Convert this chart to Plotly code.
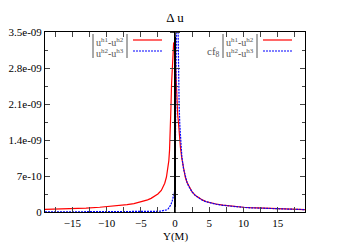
import plotly.graph_objects as go

# ---- data ----
x_red = [-19, -17, -15, -13, -11, -10, -9, -8, -7, -6, -5, -4.5, -4, -3.5, -3, -2.5, -2, -1.75, -1.5, -1.25,
         -1, -0.9, -0.8, -0.7, -0.6, -0.5, -0.4, -0.3, -0.2, -0.1, 0, 0.1, 0.2, 0.3, 0.4, 0.5, 0.6, 0.7, 0.8,
         1, 1.25, 1.5, 1.75, 2, 2.5, 3, 3.5, 4, 4.5, 5, 6, 7, 8, 9, 10, 11, 13, 15, 17, 19]
red_vals = [5.0e-11, 5.6e-11, 6.5e-11, 7.6e-11, 9.2e-11, 1.02e-10, 1.12e-10, 1.25e-10, 1.42e-10, 1.63e-10,
            1.92e-10, 2.12e-10, 2.35e-10, 2.65e-10, 3.0e-10, 3.5e-10, 4.2e-10, 4.8e-10, 5.6e-10, 6.8e-10,
            8.8e-10, 1.0e-9, 1.2e-9, 1.5e-9, 2.0e-9, 2.5e-9, 2.9e-9, 3.15e-9, 3.28e-9, 3.3e-9, 3.15e-9,
            2.8e-9, 2.35e-9, 2.05e-9, 1.88e-9, 1.75e-9, 1.55e-9, 1.38e-9, 1.25e-9,
            1.04e-9, 8.3e-10, 6.8e-10, 5.8e-10, 5.1e-10, 3.9e-10, 3.2e-10, 2.7e-10, 2.35e-10, 2.05e-10,
            1.85e-10, 1.55e-10, 1.32e-10, 1.15e-10, 1.02e-10, 9.2e-11, 8.4e-11, 7.2e-11, 6.2e-11, 5.4e-11, 4.8e-11]

x_blue = [-19, -15, -10, -7, -5, -4, -3, -2.5, -2, -1.75, -1.5, -1.25, -1, -0.8, -0.6, -0.4, -0.2, -0.1, 0,
          0.3, 0.4, 0.5, 0.6, 0.7, 0.8, 1, 1.25, 1.5, 1.75, 2, 2.5, 3, 3.5, 4, 4.5, 5, 6, 7, 8, 9, 10, 11,
          13, 15, 17, 19]
blue_vals = [1e-12, 1e-12, 2e-12, 3e-12, 5e-12, 7e-12, 1e-11, 1.3e-11, 1.8e-11, 2.3e-11, 3.0e-11, 4.2e-11,
             6e-11, 9e-11, 1.4e-10, 2.2e-10, 3.2e-10, 3.8e-10, 4.3e-10,
             5e-9, 3.6e-9, 2.6e-9, 2.1e-9, 1.7e-9, 1.42e-9, 1.08e-9, 8.4e-10, 6.9e-10, 5.8e-10, 5.0e-10,
             3.9e-10, 3.15e-10, 2.65e-10, 2.3e-10, 2.02e-10, 1.82e-10, 1.52e-10, 1.3e-10, 1.13e-10, 1.0e-10,
             9e-11, 8.2e-11, 7e-11, 6e-11, 5.2e-11, 4.6e-11]

y_tickvals = [0, 7e-10, 1.4e-9, 2.1e-9, 2.8e-9, 3.5e-9]
y_ticktext = ["0", "7e-10", "1.4e-09", "2.1e-09", "2.8e-09", "3.5e-09"]
x_range = [-19, 19]
y_range = [0, 3.5e-9]

FONT = "Liberation Serif"

fig = go.Figure()
fig.add_trace(go.Scatter(x=x_red, y=red_vals, mode="lines", line=dict(color="#ff0000", width=1.2),
                         showlegend=False, hoverinfo="skip"))
fig.add_trace(go.Scatter(x=x_blue, y=blue_vals, mode="lines", line=dict(color="#0000ff", width=1.2, dash="2px,1px"),
                         showlegend=False, hoverinfo="skip"))
# empty traces to activate the central axis
fig.add_trace(go.Scatter(x=[None], y=[None], yaxis="y2", showlegend=False, hoverinfo="skip"))
fig.add_trace(go.Scatter(x=[None], y=[None], yaxis="y3", showlegend=False, hoverinfo="skip"))

common_y = dict(range=y_range, tickvals=y_tickvals, showgrid=False, zeroline=False, automargin=False)

fig.update_layout(
    width=350, height=245,
    margin=dict(l=45, r=45, t=32, b=33, autoexpand=False),
    paper_bgcolor="white", plot_bgcolor="white",
    font=dict(family=FONT, size=11, color="black"),
    title=dict(text="Δ u", x=0.5, xanchor="center", y=1 - 17 / 245, yanchor="middle",
               font=dict(family=FONT, size=13)),
    xaxis=dict(range=x_range, tick0=0, dtick=5, ticks="inside", ticklen=5, tickwidth=1,
               minor=dict(dtick=2.5, ticks="inside", ticklen=3, tickwidth=1),
               mirror="allticks", showline=True, linecolor="black", linewidth=1,
               showgrid=False, zeroline=False, ticklabelstandoff=1, automargin=False,
               tickfont=dict(family=FONT, size=11)),
    yaxis=dict(**common_y, ticktext=y_ticktext, ticks="inside", ticklen=5, tickwidth=1,
               minor=dict(dtick=3.5e-10, ticks="inside", ticklen=3, tickwidth=1),
               mirror="allticks", showline=True, linecolor="black", linewidth=1,
               tickfont=dict(family=FONT, size=11)),
    yaxis2=dict(**common_y, overlaying="y", anchor="free", position=0.5, side="left",
                showticklabels=False, showline=True, linecolor="black", linewidth=2,
                ticks="outside", ticklen=4, tickwidth=1,
                minor=dict(dtick=3.5e-10, ticks="outside", ticklen=2, tickwidth=1)),
    yaxis3=dict(**common_y, overlaying="y", anchor="free", position=0.5, side="right",
                showticklabels=False, showline=False,
                ticks="outside", ticklen=4, tickwidth=1,
                minor=dict(dtick=3.5e-10, ticks="outside", ticklen=2, tickwidth=1)),
)

# helpers for paper coordinates of decorations
def px(xp):
    return (xp - 45) / 260.0

def py(yp):
    return (212 - yp) / 180.0

fig.add_annotation(xref="paper", yref="paper", x=0.5, y=py(236), text="Y(M)", showarrow=False,
                   font=dict(family=FONT, size=11), xanchor="center", yanchor="middle")

legend_color = "#555555"
for x0, x1 in [(133, 162), (263, 292)]:
    fig.add_shape(type="line", xref="paper", yref="paper", x0=px(x0), x1=px(x1), y0=py(40), y1=py(40),
                  line=dict(color="#ff0000", width=1.2))
    fig.add_shape(type="line", xref="paper", yref="paper", x0=px(x0), x1=px(x1), y0=py(51), y1=py(51),
                  line=dict(color="#0000ff", width=1.2, dash="2px,1px"))

leg_lines = ["u<sup>h1</sup>-u<sup>h2</sup>", "u<sup>h2</sup>-u<sup>h3</sup>"]
for xc in [110, 240]:
    for txt, yy in zip(leg_lines, [42, 53]):
        fig.add_annotation(xref="paper", yref="paper", x=px(xc), y=py(yy), text=txt, showarrow=False,
                           font=dict(family=FONT, size=10, color=legend_color),
                           xanchor="center", yanchor="middle")
    for xb in [xc - 17, xc + 17]:
        fig.add_shape(type="line", xref="paper", yref="paper", x0=px(xb), x1=px(xb), y0=py(34), y1=py(58),
                      line=dict(color=legend_color, width=1))
fig.add_annotation(xref="paper", yref="paper", x=px(222), y=py(52), text="cf<sub>8</sub>", showarrow=False,
                   font=dict(family=FONT, size=11, color=legend_color), xanchor="right", yanchor="middle")

fig.write_html("out.html", config={"displayModeBar": False},
               post_script="document.body.style.margin='0px';")
